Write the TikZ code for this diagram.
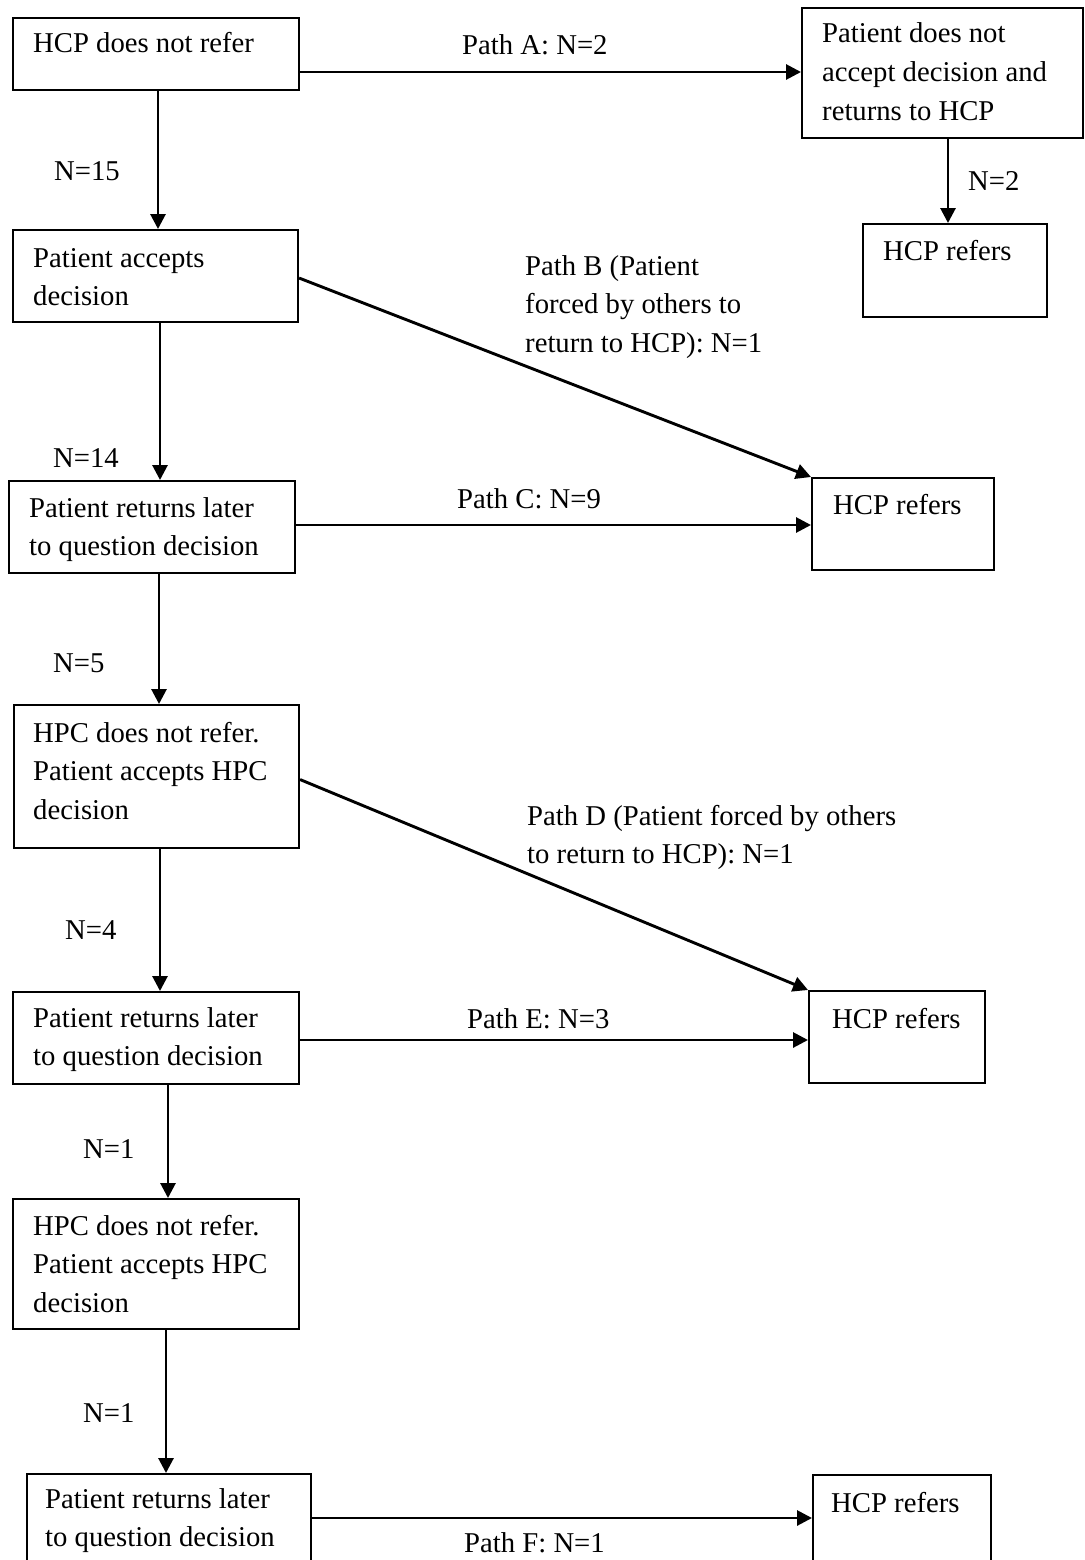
\documentclass[tikz,border=0pt]{standalone}
\usepackage{fontspec}
\setmainfont{Liberation Serif}
\usetikzlibrary{arrows.meta}
\newcommand{\flowfont}{\fontsize{28.7}{38.7}\selectfont}
\begin{document}
\begin{tikzpicture}[x=1pt,y=-1pt,
  box/.style={draw, line width=2.1pt, inner sep=0pt, anchor=north west},
  txt/.style={inner sep=0pt, anchor=base west, font=\flowfont},
  arr/.style={line width=2.9pt, -{Triangle[length=15pt,width=15pt]}}]
\useasboundingbox (0,0) rectangle (1084,1560);

% boxes: left/top corner, width, height
\node[box, minimum width=286pt, minimum height=72pt]  (b1) at (12,17) {};
\node[box, minimum width=281pt, minimum height=130pt] (a1) at (801,7) {};
\node[box, minimum width=184pt, minimum height=93pt]  (r1) at (862,223) {};
\node[box, minimum width=285pt, minimum height=92pt]  (b2) at (12,229) {};
\node[box, minimum width=182pt, minimum height=92pt]  (r2) at (811,477) {};
\node[box, minimum width=286pt, minimum height=92pt]  (b3) at (8,480) {};
\node[box, minimum width=285pt, minimum height=143pt] (b4) at (13,704) {};
\node[box, minimum width=176pt, minimum height=92pt]  (r3) at (808,990) {};
\node[box, minimum width=286pt, minimum height=92pt]  (b5) at (12,991) {};
\node[box, minimum width=286pt, minimum height=130pt] (b6) at (12,1198) {};
\node[box, minimum width=284pt, minimum height=130pt] (b7) at (26,1473) {};
\node[box, minimum width=178pt, minimum height=130pt] (r4) at (812,1474) {};

% box texts
\node[txt] (b1t) at (33,53) {HCP does not refer};
\node[txt] (a1t) at (822,43) {\vtop{\hbox{Patient does not}\hbox{accept decision and}\hbox{returns to HCP}}};
\node[txt] (r1t) at (883,260) {HCP refers};
\node[txt] (b2t) at (33,267) {\vtop{\hbox{Patient accepts}\hbox{decision}}};
\node[txt] (r2t) at (833,514) {HCP refers};
\node[txt] (b3t) at (29,517) {\vtop{\hbox{Patient returns later}\hbox{to question decision}}};
\node[txt] (b4t) at (33,742) {\vtop{\hbox{HPC does not refer.}\hbox{Patient accepts HPC}\hbox{decision}}};
\node[txt] (r3t) at (832,1028) {HCP refers};
\node[txt] (b5t) at (33,1027) {\vtop{\hbox{Patient returns later}\hbox{to question decision}}};
\node[txt] (b6t) at (33,1235) {\vtop{\hbox{HPC does not refer.}\hbox{Patient accepts HPC}\hbox{decision}}};
\node[txt] (b7t) at (45,1508) {\vtop{\hbox{Patient returns later}\hbox{to question decision}}};
\node[txt] (r4t) at (831,1512) {HCP refers};

% columns of the vertical connectors
\coordinate (x1) at (158,0);
\coordinate (x2) at (160,0);
\coordinate (x3) at (159,0);
\coordinate (x4) at (160,0);
\coordinate (x5) at (168,0);
\coordinate (x6) at (166,0);
\coordinate (xa) at (948,0);
% rows of the horizontal connectors
\coordinate (ya) at (0,72);
\coordinate (yc) at (0,525);
\coordinate (ye) at (0,1040);
\coordinate (yf) at (0,1518);

% vertical connectors
\draw[arr] (b1.south -| x1) -- (b2.north -| x1);
\draw[arr] (b2.south -| x2) -- (b3.north -| x2);
\draw[arr] (b3.south -| x3) -- (b4.north -| x3);
\draw[arr] (b4.south -| x4) -- (b5.north -| x4);
\draw[arr] (b5.south -| x5) -- (b6.north -| x5);
\draw[arr] (b6.south -| x6) -- (b7.north -| x6);
\draw[arr] (a1.south -| xa) -- (r1.north -| xa);

% horizontal connectors
\draw[arr] (b1.east |- ya) -- (a1.west |- ya);
\draw[arr] (b3.east |- yc) -- (r2.west |- yc);
\draw[arr] (b5.east |- ye) -- (r3.west |- ye);
\draw[arr] (b7.east |- yf) -- (r4.west |- yf);

% diagonal connectors
\draw[arr] ([yshift=-2pt]b2.east) -- (r2.north west);
\draw[arr] ([yshift=-3pt]b4.east) -- (r3.north west);

% connector labels
\node[txt] (la)  at (462,55)  {Path A: N=2};
\node[txt] (l15) at (54,180)  {N=15};
\node[txt] (l2)  at (968,190) {N=2};
\node[txt] (lb)  at (525,275) {\vtop{\hbox{Path B (Patient}\hbox{forced by others to}\hbox{return to HCP): N=1}}};
\node[txt] (l14) at (53,467)  {N=14};
\node[txt] (lc)  at (457,508) {Path C: N=9};
\node[txt] (l5)  at (53,672)  {N=5};
\node[txt] (ld)  at (527,825) {\vtop{\hbox{Path D (Patient forced by others}\hbox{to return to HCP): N=1}}};
\node[txt] (l4)  at (65,939)  {N=4};
\node[txt] (le)  at (467,1028) {Path E: N=3};
\node[txt] (l1a) at (83,1158) {N=1};
\node[txt] (l1b) at (83,1422) {N=1};
\node[txt] (lf)  at (464,1552) {Path F: N=1};
\end{tikzpicture}
\end{document}
